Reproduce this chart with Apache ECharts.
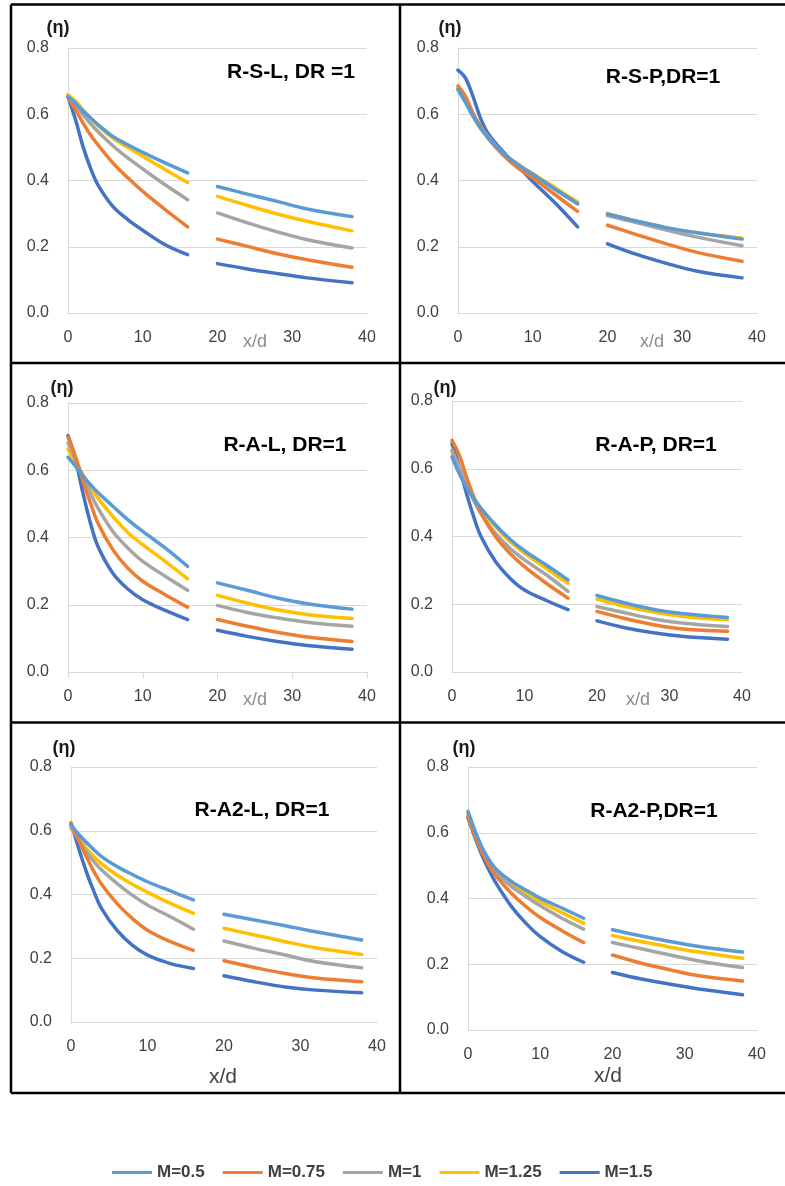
<!DOCTYPE html>
<html>
<head>
<meta charset="utf-8">
<script src="https://cdn.jsdelivr.net/npm/echarts@6/dist/echarts.min.js"></script>
<style>
  html, body { margin: 0; padding: 0; background: #fff; }
  #chart { width: 785px; height: 1186px; }
</style>
</head>
<body>
<div id="chart"></div>
<script>
// Stations along the plate (x/d): near-hole segment and downstream segment
const X_NEAR = [0, 1, 2, 3, 4, 6, 8, 10, 13, 16];
const X_FAR = [20, 24, 28, 32, 38];

const M_LABELS = ['M=0.5', 'M=0.75', 'M=1', 'M=1.25', 'M=1.5'];
const M_COLORS = ['#5B9BD5', '#ED7D31', '#A5A5A5', '#FFC000', '#4472C4'];

const Y_TICKS = [0, 0.2, 0.4, 0.6, 0.8];
const X_TICKS = [0, 10, 20, 30, 40];

const PANEL_TITLES = ['R-S-L, DR =1', 'R-S-P,DR=1', 'R-A-L, DR=1', 'R-A-P, DR=1', 'R-A2-L, DR=1', 'R-A2-P,DR=1'];

// Effectiveness (eta); each row is one blowing ratio M, 10 near + 5 far values
const RSL = [
  [0.652, 0.634, 0.609, 0.589, 0.569, 0.533, 0.508, 0.485, 0.453, 0.423, 0.382, 0.359, 0.337, 0.314, 0.291],
  [0.652, 0.614, 0.574, 0.538, 0.508, 0.453, 0.408, 0.367, 0.312, 0.260, 0.223, 0.201, 0.179, 0.161, 0.138],
  [0.654, 0.629, 0.599, 0.572, 0.548, 0.505, 0.468, 0.435, 0.387, 0.342, 0.302, 0.272, 0.245, 0.221, 0.196],
  [0.659, 0.639, 0.614, 0.589, 0.566, 0.528, 0.500, 0.473, 0.433, 0.394, 0.352, 0.325, 0.299, 0.277, 0.248],
  [0.652, 0.584, 0.503, 0.438, 0.387, 0.322, 0.282, 0.250, 0.206, 0.176, 0.149, 0.133, 0.119, 0.106, 0.091]
];
const RSP = [
  [0.674, 0.636, 0.594, 0.558, 0.530, 0.483, 0.448, 0.418, 0.374, 0.330, 0.299, 0.277, 0.257, 0.242, 0.223],
  [0.686, 0.654, 0.604, 0.564, 0.528, 0.478, 0.438, 0.408, 0.357, 0.307, 0.265, 0.236, 0.208, 0.183, 0.156],
  [0.679, 0.644, 0.599, 0.564, 0.533, 0.483, 0.448, 0.418, 0.372, 0.330, 0.294, 0.272, 0.250, 0.229, 0.203],
  [0.676, 0.639, 0.595, 0.561, 0.531, 0.483, 0.450, 0.421, 0.378, 0.335, 0.300, 0.277, 0.257, 0.242, 0.226],
  [0.733, 0.709, 0.654, 0.589, 0.543, 0.488, 0.443, 0.397, 0.332, 0.260, 0.209, 0.176, 0.149, 0.126, 0.106]
];
const RAL = [
  [0.639, 0.612, 0.582, 0.557, 0.534, 0.493, 0.453, 0.418, 0.369, 0.314, 0.265, 0.243, 0.220, 0.203, 0.187],
  [0.699, 0.641, 0.567, 0.503, 0.443, 0.364, 0.309, 0.270, 0.230, 0.193, 0.156, 0.136, 0.118, 0.104, 0.091],
  [0.681, 0.631, 0.582, 0.532, 0.488, 0.418, 0.369, 0.329, 0.285, 0.243, 0.198, 0.177, 0.161, 0.148, 0.136],
  [0.663, 0.622, 0.587, 0.552, 0.517, 0.463, 0.415, 0.379, 0.329, 0.277, 0.228, 0.205, 0.185, 0.171, 0.159],
  [0.703, 0.631, 0.532, 0.443, 0.374, 0.294, 0.247, 0.215, 0.183, 0.156, 0.124, 0.106, 0.091, 0.079, 0.068]
];
const RAP = [
  [0.635, 0.586, 0.545, 0.512, 0.483, 0.434, 0.392, 0.358, 0.316, 0.272, 0.226, 0.203, 0.184, 0.172, 0.161],
  [0.684, 0.640, 0.576, 0.517, 0.468, 0.400, 0.350, 0.311, 0.262, 0.218, 0.179, 0.157, 0.139, 0.127, 0.120],
  [0.655, 0.606, 0.552, 0.507, 0.468, 0.409, 0.365, 0.331, 0.287, 0.238, 0.193, 0.174, 0.156, 0.144, 0.134],
  [0.650, 0.596, 0.552, 0.514, 0.483, 0.429, 0.385, 0.351, 0.306, 0.262, 0.215, 0.193, 0.176, 0.164, 0.154],
  [0.674, 0.606, 0.527, 0.458, 0.400, 0.326, 0.277, 0.242, 0.211, 0.184, 0.151, 0.130, 0.115, 0.105, 0.097]
];
const RA2L = [
  [0.619, 0.589, 0.564, 0.540, 0.519, 0.488, 0.463, 0.440, 0.411, 0.383, 0.338, 0.320, 0.302, 0.283, 0.257],
  [0.624, 0.571, 0.519, 0.472, 0.432, 0.372, 0.325, 0.288, 0.252, 0.225, 0.192, 0.171, 0.152, 0.138, 0.126],
  [0.613, 0.571, 0.535, 0.503, 0.477, 0.435, 0.398, 0.367, 0.330, 0.291, 0.254, 0.231, 0.210, 0.189, 0.170],
  [0.606, 0.577, 0.545, 0.519, 0.496, 0.461, 0.432, 0.407, 0.372, 0.341, 0.294, 0.273, 0.252, 0.233, 0.212],
  [0.624, 0.545, 0.472, 0.409, 0.356, 0.288, 0.241, 0.210, 0.183, 0.168, 0.145, 0.126, 0.110, 0.100, 0.092]
];
const RA2P = [
  [0.665, 0.604, 0.553, 0.515, 0.487, 0.452, 0.426, 0.401, 0.371, 0.340, 0.305, 0.286, 0.269, 0.254, 0.237],
  [0.645, 0.589, 0.538, 0.497, 0.465, 0.416, 0.376, 0.342, 0.302, 0.266, 0.228, 0.203, 0.183, 0.165, 0.149],
  [0.650, 0.592, 0.543, 0.505, 0.475, 0.437, 0.406, 0.378, 0.340, 0.307, 0.266, 0.247, 0.228, 0.210, 0.190],
  [0.655, 0.596, 0.548, 0.510, 0.482, 0.445, 0.416, 0.391, 0.357, 0.325, 0.287, 0.269, 0.252, 0.237, 0.218],
  [0.645, 0.584, 0.528, 0.482, 0.442, 0.376, 0.325, 0.284, 0.239, 0.206, 0.175, 0.155, 0.139, 0.125, 0.107]
];

const PANEL_DATA = [RSL, RSP, RAL, RAP, RA2L, RA2P];

// Plot-area boxes of the six panels (px)
const GRIDS = [
  { left: 68, top: 48, width: 299, height: 265 },
  { left: 458, top: 48, width: 299, height: 265 },
  { left: 68, top: 403, width: 299, height: 269 },
  { left: 452, top: 401, width: 290, height: 271 },
  { left: 71, top: 767, width: 306, height: 255 },
  { left: 468, top: 767, width: 289, height: 263 }
];

const TITLE_POS = [[291, 72], [663, 77], [285, 445], [656, 445], [262, 810], [654, 811]];
const ETA_POS = [[58, 28], [450, 28], [62, 388], [445, 388], [64, 748], [464, 748]];
const XD_POS = [[255, 342], [652, 342], [255, 700], [638, 700], [223, 1077], [608, 1076]];

const FONT = "'Liberation Sans', Arial, sans-serif";
const gridLineColor = '#d9d9d9';

const xAxes = [], yAxes = [], series = [];
GRIDS.forEach((g, i) => {
  xAxes.push({
    type: 'value', gridIndex: i, min: X_TICKS[0], max: X_TICKS[X_TICKS.length - 1], interval: 10,
    axisLine: { show: true, lineStyle: { color: gridLineColor, width: 1 } },
    axisTick: { show: i === 2, length: 6, lineStyle: { color: gridLineColor } },
    splitLine: { show: false },
    axisLabel: { margin: 17, color: '#404040', fontSize: 16, fontFamily: FONT }
  });
  yAxes.push({
    type: 'value', gridIndex: i, min: Y_TICKS[0], max: Y_TICKS[Y_TICKS.length - 1], interval: 0.2,
    axisLine: { show: true, lineStyle: { color: gridLineColor, width: 1 } },
    axisTick: { show: false },
    splitLine: { show: true, lineStyle: { color: gridLineColor, width: 1 } },
    axisLabel: { margin: 19, color: '#404040', fontSize: 16, fontFamily: FONT,
      formatter: v => v.toFixed(1) }
  });
  const rows = PANEL_DATA[i];
  // draw the highest M first so the M=0.5 curve ends up on top
  for (let m = rows.length - 1; m >= 0; m--) {
    const row = rows[m];
    const pts = X_NEAR.map((x, k) => [x, row[k]]);
    pts.push([18, '-']);
    X_FAR.forEach((x, k) => pts.push([x, row[X_NEAR.length + k]]));
    series.push({
      name: M_LABELS[m], type: 'line', xAxisIndex: i, yAxisIndex: i,
      data: pts, smooth: 0.35, symbol: 'none', connectNulls: false,
      lineStyle: { color: M_COLORS[m], width: 3.5, cap: 'round' },
      itemStyle: { color: M_COLORS[m] },
      emphasis: { disabled: true }, animation: false
    });
  }
});

const graphics = [];
// panel frames
const B = { x0: 11, x1: 785, xm: 400, ys: [4.5, 363, 722.5, 1093] };
B.ys.forEach(y => graphics.push({ type: 'line', shape: { x1: B.x0, y1: y, x2: B.x1, y2: y },
  style: { stroke: '#000', lineWidth: 2.5 } }));
[B.x0, B.xm].forEach(x => graphics.push({ type: 'line', shape: { x1: x, y1: B.ys[0], x2: x, y2: B.ys[3] },
  style: { stroke: '#000', lineWidth: 2.5 } }));

PANEL_TITLES.forEach((t, i) => {
  graphics.push({ type: 'text', x: TITLE_POS[i][0], y: TITLE_POS[i][1],
    style: { text: t, fill: '#000', font: `bold 21px ${FONT}`, align: 'center', verticalAlign: 'middle' } });
  graphics.push({ type: 'text', x: ETA_POS[i][0], y: ETA_POS[i][1],
    style: { text: '(η)', fill: '#1a1a1a', font: `bold 18px ${FONT}`, align: 'center', verticalAlign: 'middle' } });
  const lower = i >= 4;
  graphics.push({ type: 'text', x: XD_POS[i][0], y: XD_POS[i][1],
    style: { text: 'x/d', fill: lower ? '#404040' : '#8c8c8c',
      font: lower ? `21px ${FONT}` : `18px ${FONT}`, align: 'center', verticalAlign: 'middle' } });
});

const chart = echarts.init(document.getElementById('chart'), null, { renderer: 'canvas' });
chart.setOption({
  animation: false,
  backgroundColor: '#ffffff',
  grid: GRIDS.map(g => Object.assign({ containLabel: false }, g)),
  xAxis: xAxes,
  yAxis: yAxes,
  series: series,
  legend: {
    data: M_LABELS.map(n => ({ name: n, icon: 'rect' })),
    left: 112, top: 1164, padding: 0,
    itemWidth: 40, itemHeight: 3, itemGap: 18,
    textStyle: { fontFamily: FONT, fontWeight: 'bold', fontSize: 17, color: '#404040', lineHeight: 17 },
    selectedMode: false
  },
  graphic: graphics
});
</script>
</body>
</html>
